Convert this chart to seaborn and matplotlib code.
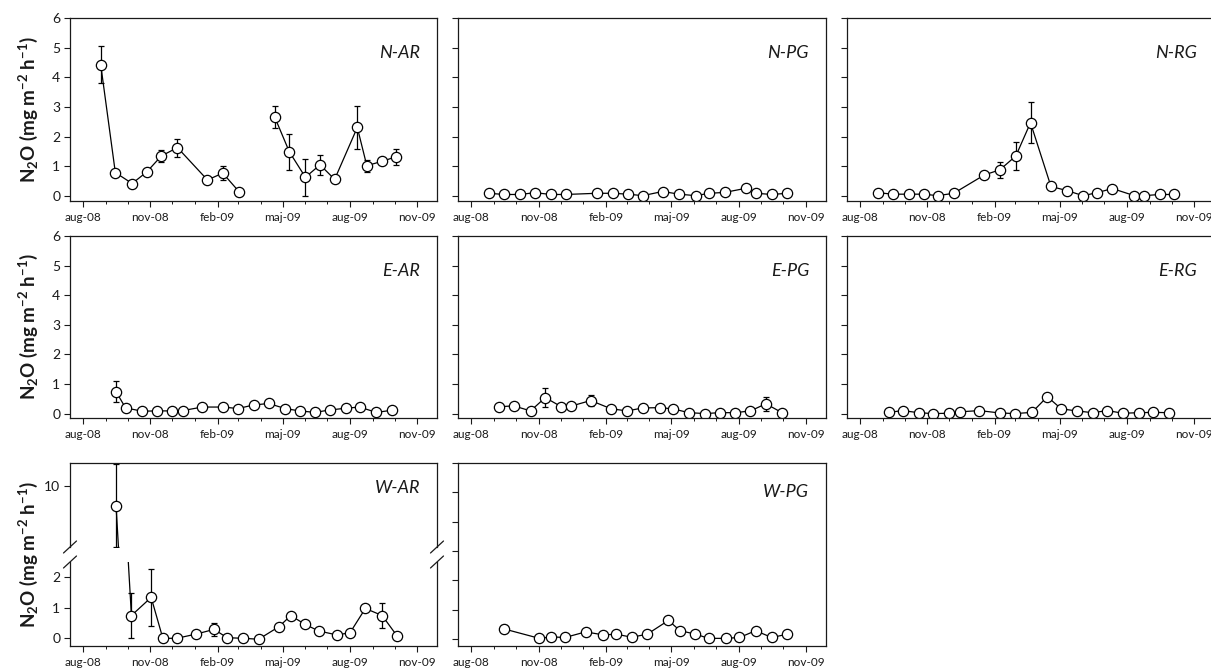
import numpy as np
import pandas as pd
import matplotlib
matplotlib.use("Agg")
import matplotlib.pyplot as plt
import matplotlib.dates as mdates
import matplotlib.transforms as mtransforms
import seaborn as sns

# ---------------------------------------------------------------
# Mean N2O flux (mg m-2 h-1) and standard error per sampling date
# ---------------------------------------------------------------
n_ar_dates = ["2008-08-25", "2008-09-14", "2008-10-07", "2008-10-27", "2008-11-16",
              "2008-12-08", "2009-01-18", "2009-02-08", "2009-03-02", "2009-04-20",
              "2009-05-10", "2009-06-01", "2009-06-21", "2009-07-11", "2009-08-11",
              "2009-08-24", "2009-09-14", "2009-10-03"]
n_ar_flux = [4.43, 0.79, 0.42, 0.81, 1.35, 1.63, 0.54, 0.77, 0.15, 2.66,
             1.49, 0.63, 1.05, 0.56, 2.31, 1.02, 1.17, 1.32]
n_ar_se = [0.62, 0.05, 0.05, 0.05, 0.20, 0.30, 0.10, 0.23, 0.0, 0.37,
           0.60, 0.62, 0.34, 0.0, 0.73, 0.20, 0.0, 0.27]
n_ar_campaign = [1] * 9 + [2] * 9

n_pg_dates = ["2008-08-25", "2008-09-15", "2008-10-06", "2008-10-27", "2008-11-18",
              "2008-12-08", "2009-01-19", "2009-02-10", "2009-03-03", "2009-03-23",
              "2009-04-19", "2009-05-12", "2009-06-03", "2009-06-22", "2009-07-13",
              "2009-08-11", "2009-08-25", "2009-09-15", "2009-10-06"]
n_pg_flux = [0.09, 0.05, 0.05, 0.11, 0.05, 0.05, 0.09, 0.09, 0.06, 0.01,
             0.15, 0.06, 0.01, 0.09, 0.12, 0.26, 0.09, 0.05, 0.09]
n_pg_se = [0.0] * 19

n_rg_dates = ["2008-08-25", "2008-09-15", "2008-10-07", "2008-10-27", "2008-11-15",
              "2008-12-07", "2009-01-18", "2009-02-08", "2009-03-02", "2009-03-22",
              "2009-04-19", "2009-05-11", "2009-06-02", "2009-06-21", "2009-07-12",
              "2009-08-11", "2009-08-24", "2009-09-15", "2009-10-04"]
n_rg_flux = [0.11, 0.06, 0.06, 0.06, 0.01, 0.09, 0.71, 0.88, 1.35, 2.47,
             0.32, 0.18, 0.01, 0.11, 0.25, 0.01, 0.01, 0.05, 0.05]
n_rg_se = [0.0, 0.0, 0.0, 0.0, 0.0, 0.0, 0.0, 0.27, 0.47, 0.69,
           0.0, 0.0, 0.0, 0.0, 0.0, 0.0, 0.0, 0.0, 0.0]

e_ar_dates = ["2008-09-15", "2008-09-28", "2008-10-21", "2008-11-10", "2008-11-30",
              "2008-12-15", "2009-01-11", "2009-02-08", "2009-03-01", "2009-03-22",
              "2009-04-12", "2009-05-04", "2009-05-24", "2009-06-14", "2009-07-04",
              "2009-07-26", "2009-08-14", "2009-09-06", "2009-09-27"]
e_ar_flux = [0.74, 0.19, 0.08, 0.09, 0.09, 0.10, 0.22, 0.22, 0.17, 0.29,
             0.34, 0.17, 0.09, 0.04, 0.12, 0.18, 0.22, 0.04, 0.11]
e_ar_se = [0.36] + [0.0] * 18

e_pg_dates = ["2008-09-08", "2008-09-28", "2008-10-21", "2008-11-10", "2008-12-02",
              "2008-12-15", "2009-01-11", "2009-02-08", "2009-03-02", "2009-03-23",
              "2009-04-15", "2009-05-03", "2009-05-25", "2009-06-16", "2009-07-06",
              "2009-07-27", "2009-08-17", "2009-09-07", "2009-09-29"]
e_pg_flux = [0.23, 0.26, 0.09, 0.54, 0.23, 0.25, 0.44, 0.16, 0.09, 0.19,
             0.20, 0.16, 0.03, 0.0, 0.03, 0.03, 0.09, 0.33, 0.03]
e_pg_se = [0.0, 0.0, 0.0, 0.33, 0.0, 0.0, 0.18, 0.0, 0.0, 0.0,
           0.0, 0.0, 0.0, 0.0, 0.0, 0.0, 0.0, 0.23, 0.0]

e_rg_dates = ["2008-09-09", "2008-09-28", "2008-10-20", "2008-11-08", "2008-12-01",
              "2008-12-16", "2009-01-11", "2009-02-08", "2009-03-01", "2009-03-24",
              "2009-04-14", "2009-05-03", "2009-05-24", "2009-06-15", "2009-07-05",
              "2009-07-27", "2009-08-17", "2009-09-06", "2009-09-28"]
e_rg_flux = [0.04, 0.10, 0.03, 0.0, 0.01, 0.06, 0.10, 0.02, 0.0, 0.04,
             0.57, 0.16, 0.09, 0.03, 0.10, 0.01, 0.03, 0.04, 0.03]
e_rg_se = [0.0] * 19

w_ar_dates = ["2008-09-15", "2008-10-06", "2008-11-02", "2008-11-18", "2008-12-07",
              "2009-01-03", "2009-01-27", "2009-02-14", "2009-03-08", "2009-03-29",
              "2009-04-26", "2009-05-12", "2009-05-31", "2009-06-19", "2009-07-14",
              "2009-08-01", "2009-08-22", "2009-09-14", "2009-10-04"]
w_ar_flux = [9.36, 0.74, 1.33, 0.0, 0.0, 0.14, 0.29, 0.02, 0.0, -0.03,
             0.38, 0.74, 0.46, 0.24, 0.11, 0.18, 0.97, 0.74, 0.09]
w_ar_se = [1.35, 0.74, 0.92, 0.0, 0.0, 0.0, 0.20, 0.0, 0.0, 0.0,
           0.0, 0.0, 0.0, 0.0, 0.0, 0.0, 0.0, 0.40, 0.0]

w_pg_dates = ["2008-09-15", "2008-11-02", "2008-11-18", "2008-12-07", "2009-01-04",
              "2009-01-28", "2009-02-15", "2009-03-08", "2009-03-29", "2009-04-27",
              "2009-05-13", "2009-06-02", "2009-06-21", "2009-07-14", "2009-08-02",
              "2009-08-24", "2009-09-15", "2009-10-06"]
w_pg_flux = [0.35, 0.03, 0.08, 0.06, 0.25, 0.15, 0.17, 0.07, 0.17, 0.64,
             0.29, 0.18, 0.03, 0.03, 0.06, 0.29, 0.06, 0.17]
w_pg_se = [0.12] + [0.0] * 17

tick_dates = ["2008-08-01", "2008-11-01", "2009-02-01", "2009-05-01", "2009-08-01", "2009-11-01"]
tick_labels = ["aug-08", "nov-08", "feb-09", "maj-09", "aug-09", "nov-09"]

# ---------------------------------------------------------------
sns.set_theme(style="ticks")
plt.rcParams["font.family"] = ["Lato", "DejaVu Sans"]
plt.rcParams["mathtext.default"] = "regular"
plt.rcParams["axes.linewidth"] = 0.9
plt.rcParams["axes.edgecolor"] = "#1a1a1a"

W, H = 1211, 669
fig = plt.figure(figsize=(W / 100, H / 100), dpi=100)
fig.patch.set_facecolor("white")

# transform taking pixel positions measured from the top-left corner
PIX = mtransforms.Affine2D().scale(1 / W, -1 / H).translate(0, 1) + fig.transFigure

X_LO = pd.Timestamp("2008-07-14")
X_HI = pd.Timestamp("2009-11-28")
INK = "#1a1a1a"
ylabel = r"N$_2$O (mg m$^{-2}$ h$^{-1}$)"


def add_axes(left, top, width, height):
    return fig.add_axes([left / W, 1 - (top + height) / H, width / W, height / H])


def style_x(ax):
    ax.set_xlim(X_LO, X_HI)
    ax.set_xticks(pd.to_datetime(tick_dates))
    ax.set_xticklabels(tick_labels)
    ax.xaxis.set_minor_locator(mdates.MonthLocator())
    ax.tick_params(axis="x", which="major", direction="out", length=4, width=0.8,
                   labelsize=8.5, pad=4, colors=INK)
    ax.tick_params(axis="x", which="minor", direction="out", length=2.2, width=0.7,
                   colors=INK)
    ax.tick_params(axis="y", which="major", direction="out", length=4, width=0.8,
                   labelsize=10, pad=3, colors=INK)
    ax.set_xlabel("")
    ax.set_ylabel("")


def draw_series(ax, dates, flux, se, segment=None):
    if segment is None:
        segment = [1] * len(dates)
    df = pd.DataFrame({"date": pd.to_datetime(dates), "flux": flux, "seg": segment})
    ax.errorbar(df["date"], df["flux"], yerr=se, fmt="none", ecolor="black",
                elinewidth=0.9, capsize=2.2, capthick=0.9, zorder=1)
    sns.lineplot(data=df, x="date", y="flux", units="seg", estimator=None, ax=ax,
                 color="black", lw=0.9, marker="o", markersize=7.4,
                 markerfacecolor="white", markeredgecolor="black",
                 markeredgewidth=0.9, zorder=2, legend=False)


def panel_title(ax, text, y, width_px=367, right_px=17):
    ax.text(1 - right_px / width_px, y, text, transform=ax.transAxes, ha="right",
            va="center", fontsize=13, fontstyle="italic", color=INK)


def side_label(top, bottom):
    fig.text(28 / W, 1 - (top + bottom) / 2 / H, ylabel, rotation=90, ha="center",
             va="center", fontsize=13.5, fontweight="bold", color=INK)


cols = [(70, 367), (458, 368), (847, 367)]
rows = [(18, 183), (236, 182)]
row_lims = [(-0.17, 6), (-0.15, 6)]

grid = [
    [("N-AR", n_ar_dates, n_ar_flux, n_ar_se, n_ar_campaign),
     ("N-PG", n_pg_dates, n_pg_flux, n_pg_se, None),
     ("N-RG", n_rg_dates, n_rg_flux, n_rg_se, None)],
    [("E-AR", e_ar_dates, e_ar_flux, e_ar_se, None),
     ("E-PG", e_pg_dates, e_pg_flux, e_pg_se, None),
     ("E-RG", e_rg_dates, e_rg_flux, e_rg_se, None)],
]

for r, (top, height) in enumerate(rows):
    for c, (left, width) in enumerate(cols):
        name, d, f, s, seg = grid[r][c]
        ax = add_axes(left, top, width, height)
        draw_series(ax, d, f, s, seg)
        style_x(ax)
        ax.set_ylim(*row_lims[r])
        ax.set_yticks(range(0, 7))
        if c > 0:
            ax.tick_params(axis="y", labelleft=False)
        panel_title(ax, name, 0.81, width_px=width)
    side_label(top, top + height)

# --- W-AR with a broken y axis ---
top3, bot3 = 463, 646
up_bottom, lo_top = 547, 562
ax_up = add_axes(70, top3, 367, up_bottom - top3)
ax_lo = add_axes(70, lo_top, 367, bot3 - lo_top)
for ax in (ax_up, ax_lo):
    draw_series(ax, w_ar_dates, w_ar_flux, w_ar_se)
    style_x(ax)
ax_up.set_ylim(8.02, 10.75)
ax_up.set_yticks([10])
ax_up.spines["bottom"].set_visible(False)
ax_up.tick_params(axis="x", which="both", bottom=False, labelbottom=False)
ax_lo.set_ylim(-0.25, 2.48)
ax_lo.set_yticks([0, 1, 2])
ax_lo.spines["top"].set_visible(False)
panel_title(ax_up, "W-AR", 0.70)

# diagonal break marks across both side spines
dx, dy = 6.5, 6
for y_px in (up_bottom, lo_top):
    for x_px in (70, 437):
        fig.add_artist(plt.Line2D([x_px - dx, x_px + dx], [y_px + dy, y_px - dy],
                                  transform=PIX, color=INK, lw=0.9))

side_label(top3, bot3)

# --- W-PG ---
ax = add_axes(458, top3, 368, bot3 - top3)
draw_series(ax, w_pg_dates, w_pg_flux, w_pg_se)
style_x(ax)
ax.set_ylim(-0.23, 6)
ax.set_yticks(range(0, 7))
ax.tick_params(axis="y", labelleft=False)
panel_title(ax, "W-PG", 0.84, width_px=368)

fig.savefig("out.png", dpi=100, facecolor="white")
